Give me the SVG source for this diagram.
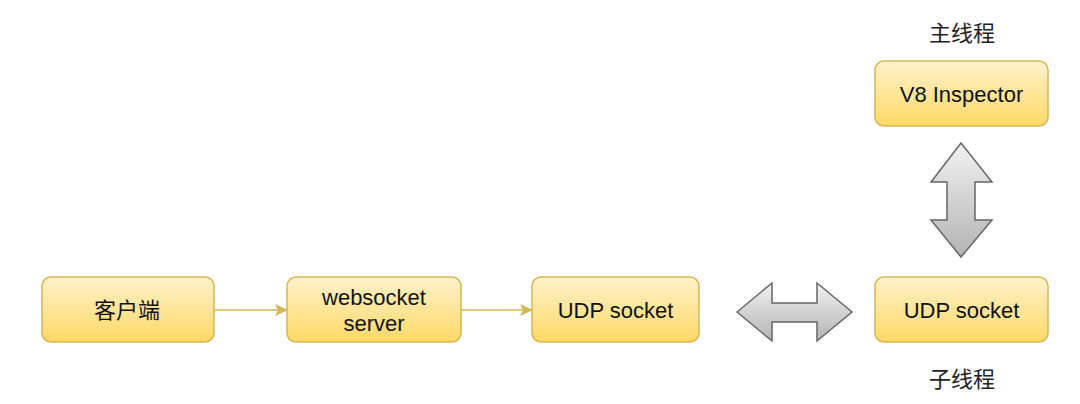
<svg xmlns="http://www.w3.org/2000/svg" width="1080" height="404" viewBox="0 0 1080 404">
<defs>
<linearGradient id="yg" x1="0" y1="0" x2="0" y2="1">
<stop offset="0" stop-color="#fff2cc"/>
<stop offset="1" stop-color="#ffd966"/>
</linearGradient>
<linearGradient id="gg" x1="0" y1="0" x2="0" y2="1">
<stop offset="0" stop-color="#f2f2f2"/>
<stop offset="1" stop-color="#b3b3b3"/>
</linearGradient>
<marker id="ah" markerWidth="13" markerHeight="12" refX="12" refY="6" orient="auto" markerUnits="userSpaceOnUse">
<path d="M0,0 L13,6 L0,12 L3,6 Z" fill="#d6b656"/>
</marker>
<style>
.box{fill:url(#yg);stroke:#d6b656;stroke-width:1.5}
.t{font-family:"Liberation Sans","Noto Sans CJK SC",sans-serif;font-size:22px;fill:#111;text-anchor:middle}
.cjk{font-family:"Noto Sans CJK SC","Liberation Sans",sans-serif;font-size:22px;fill:#111;text-anchor:middle}
.lbl{font-family:"Noto Sans CJK SC","Liberation Sans",sans-serif;font-size:22px;fill:#222;text-anchor:middle}
.conn{stroke:#d6b656;stroke-width:1.5;fill:none}
.big{fill:url(#gg);stroke:#666;stroke-width:1.5;stroke-linejoin:miter}
</style>
</defs>
<rect width="1080" height="404" fill="#fff"/>
<g id="client">
<rect class="box" x="42" y="277" width="172" height="65" rx="9"/>
<text class="cjk" x="127" y="318">客户端</text>
</g>
<g id="ws">
<rect class="box" x="287" y="277" width="174" height="65" rx="9"/>
<text class="t" x="374" y="305">websocket</text>
<text class="t" x="374" y="331">server</text>
</g>
<g id="udp1">
<rect class="box" x="532" y="277" width="167" height="65" rx="9"/>
<text class="t" x="615.5" y="318">UDP socket</text>
</g>
<g id="udp2">
<rect class="box" x="875" y="277" width="173" height="65" rx="9"/>
<text class="t" x="961.5" y="318">UDP socket</text>
</g>
<g id="v8">
<rect class="box" x="875" y="61" width="173" height="65" rx="9"/>
<text class="t" x="961.5" y="102">V8 Inspector</text>
</g>
<g id="label-main">
<text class="lbl" x="962" y="41">主线程</text>
</g>
<g id="label-sub">
<text class="lbl" x="962" y="387">子线程</text>
</g>
<g id="connectors">
<line class="conn" x1="214" y1="310" x2="287" y2="310" marker-end="url(#ah)"/>
<line class="conn" x1="461" y1="310" x2="532" y2="310" marker-end="url(#ah)"/>
<path class="big" d="M737,312 L772,283 L772,303 L817,303 L817,283 L852,312 L817,341 L817,322 L772,322 L772,341 Z"/>
<path class="big" d="M961,143 L992,182 L975,182 L975,220 L992,220 L961,257 L931,220 L947,220 L947,182 L931,182 Z"/>
</g>
</svg>
